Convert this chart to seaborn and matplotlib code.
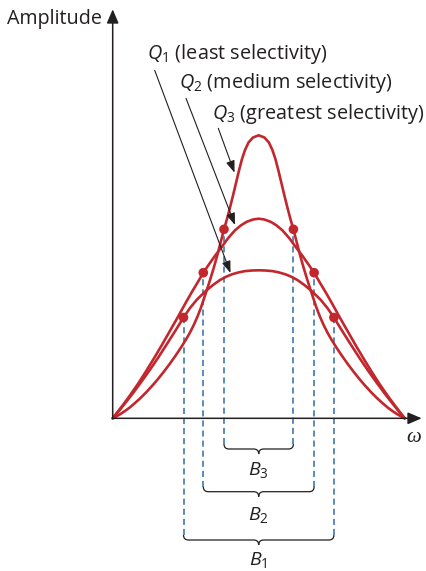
import numpy as np
import pandas as pd
import matplotlib.pyplot as plt
from matplotlib.path import Path
from matplotlib.patches import PathPatch
import seaborn as sns

# resonance curves (arbitrary units)
q3_omega = [0, 3.3, 7.3, 12.3, 17.3, 22.3, 27.3, 33.3, 39.3, 45.3, 51.3, 57.3, 63.3, 68.3,
            73.3, 77.3, 81.3, 84.8, 88.3, 91.3, 94.3, 97.8, 101.3, 104.8, 108.3, 111.3, 114.3,
            117.3, 120.3, 123.3, 126.3, 129.3, 132.3, 135.8, 140.3, 146,
            151.7, 156.2, 159.7, 162.7, 165.7, 168.7, 171.7, 174.7, 177.7, 180.7, 183.7, 187.2,
            190.7, 194.2, 197.7, 200.7, 203.7, 207.2, 210.7, 214.7, 218.7, 223.7, 228.7, 234.7,
            240.7, 246.7, 252.7, 258.7, 264.7, 269.7, 274.7, 279.7, 284.7, 288.7, 292]
q3_amp = [0, 1.7, 4, 7.3, 11, 15.3, 19.8, 25.8, 32.3, 39.3, 46.8, 54.8, 63.3, 70.8,
          78.8, 85.8, 93.8, 101.8, 110.8, 119.8, 128.8, 139.8, 151.3, 163.8, 177.3, 189, 199.3,
          210.8, 222.8, 235.3, 247.8, 259.3, 268.3, 275.8, 280.8, 283,
          280.8, 275.8, 268.3, 259.3, 247.8, 235.3, 222.8, 210.8, 199.3, 189, 177.3, 163.8,
          151.3, 139.8, 128.8, 119.8, 110.8, 101.8, 93.8, 85.8, 78.8, 70.8, 63.3, 54.8,
          46.8, 39.3, 32.3, 25.8, 19.8, 15.3, 11, 7.3, 4, 1.7, 0]

q2_omega = [0, 5, 10, 17, 25, 33, 41, 49, 57, 65, 73, 79, 85, 90.6, 96.3, 102.3, 108,
            115.3, 122.3, 128.3, 134, 140.3, 146,
            151.7, 158, 163.7, 169.7, 176.7, 184, 189.7, 195.7, 201.4, 207, 213, 219, 227,
            235, 243, 251, 259, 267, 275, 282, 287, 292]
q2_amp = [0, 6.5, 13, 22.5, 34, 46.5, 59.5, 73, 87, 101, 115.5, 126, 136, 145.6, 154, 162.5, 170,
          180, 188, 193, 196.5, 198.8, 199.6,
          198.8, 196.5, 193, 188, 180, 170, 162.5, 154, 145.6, 136, 126, 115.5, 101,
          87, 73, 59.5, 46.5, 34, 22.5, 13, 6.5, 0]

q1_omega = [0, 3.3, 6.7, 13.3, 20, 28.3, 36.7, 45, 53.4, 62.3, 70.8, 77.3, 84.3, 93.3, 100.3,
            107.3, 113.3, 119.3, 126.3, 132.3, 139.3, 146,
            152.7, 159.7, 165.7, 172.7, 178.7, 184.7, 191.7, 198.7, 207.7, 214.7, 221.2, 229.7,
            238.6, 247, 255.3, 263.7, 272, 278.7, 285.3, 288.7, 292]
q1_amp = [0, 3.8, 7.9, 16.2, 24.8, 36, 47.8, 60, 73, 87, 100.8, 110.3, 118.8, 127.5, 133.3,
          138.3, 141.5, 144, 146, 147.2, 147.8, 148,
          147.8, 147.2, 146, 144, 141.5, 138.3, 133.3, 127.5, 118.8, 110.3, 100.8, 87,
          73, 60, 47.8, 36, 24.8, 16.2, 7.9, 3.8, 0]

# half-power points (lower, upper) and their amplitude: Q1, Q2, Q3
half_lo = [70.8, 90.6, 111.3]
half_hi = [221.2, 201.4, 180.7]
half_amp = [100.8, 145.6, 189]

curve_names = ["Q1", "Q2", "Q3"]
curve_labels = ["least selectivity", "medium selectivity", "greatest selectivity"]

red = "#c1272d"
blue = "#2f6ca6"
ink = "#231f20"

sns.set_style("white")
plt.rcParams["font.family"] = ["Open Sans", "DejaVu Sans"]
plt.rcParams["mathtext.fontset"] = "custom"
plt.rcParams["mathtext.it"] = "Open Sans:italic"
plt.rcParams["mathtext.rm"] = "Open Sans"

df = pd.concat([
    pd.DataFrame({"omega": q1_omega, "amp": q1_amp, "curve": "Q1"}),
    pd.DataFrame({"omega": q2_omega, "amp": q2_amp, "curve": "Q2"}),
    pd.DataFrame({"omega": q3_omega, "amp": q3_amp, "curve": "Q3"}),
])
pts = pd.DataFrame({"omega": half_lo + half_hi, "amp": half_amp + half_amp})

fig = plt.figure(figsize=(4.26, 5.71), dpi=100)
ax = fig.add_axes([0, 0, 1, 1])
ax.set_xlim(-112.7, 313.3)
ax.set_ylim(-152.7, 418.3)
ax.axis("off")

# dashed bandwidth guides
brace_top = [-116.7, -68.4, -25.7]
for x0, x1, a, yb in zip(half_lo, half_hi, half_amp, brace_top):
    ax.vlines([x0, x1], yb, a, colors=blue, linewidth=1.1, linestyles=(0, (4, 2.6)), zorder=1)

sns.lineplot(data=df, x="omega", y="amp", units="curve", estimator=None, sort=False,
             color=red, linewidth=1.9, ax=ax, zorder=3)
sns.scatterplot(data=pts, x="omega", y="amp", color=red, s=48, edgecolor="none", ax=ax, zorder=4)

# axes with arrow heads
arrow = dict(arrowstyle="-|>,head_length=0.7,head_width=0.3", color=ink, lw=1.1,
             shrinkA=0, shrinkB=0, mutation_scale=12)
ax.annotate("", xy=(0, 409), xytext=(0, 0), arrowprops=arrow)
ax.annotate("", xy=(309, 0), xytext=(0, 0), arrowprops=arrow)
ax.text(-106, 394, "Amplitude", fontsize=14.2, color=ink, va="baseline", ha="left")
ax.text(301, -19, "ω", fontsize=15, color=ink, family="Liberation Serif", style="italic",
        ha="center", va="center")

# curve labels with leaders
label_pos = [(34, 359), (66.6, 330), (99, 299)]
leader_from = [(42, 348), (73.3, 320), (105.6, 290)]
leader_to = [(117.8, 145.3), (122.3, 193.3), (121.8, 245.6)]
lead = dict(arrowstyle="-|>,head_length=0.6,head_width=0.22", color=ink, lw=0.8,
            shrinkA=0, shrinkB=0, mutation_scale=12)
for i, name in enumerate(curve_names):
    ax.text(*label_pos[i], f"$Q_{name[1]}$ ({curve_labels[i]})", fontsize=14.3, color=ink,
            ha="left", va="baseline")
    ax.annotate("", xy=leader_to[i], xytext=leader_from[i], arrowprops=lead, zorder=5)


def brace(x0, x1, y, h, d, r=5):
    xm = (x0 + x1) / 2
    verts = [(x0, y), (x0, y - h), (x0 + r, y - h),
             (xm - r, y - h), (xm, y - h), (xm, y - h - d),
             (xm, y - h), (xm + r, y - h),
             (x1 - r, y - h), (x1, y - h), (x1, y)]
    codes = [Path.MOVETO, Path.CURVE3, Path.CURVE3, Path.LINETO, Path.CURVE3, Path.CURVE3,
             Path.CURVE3, Path.CURVE3, Path.LINETO, Path.CURVE3, Path.CURVE3]
    ax.add_patch(PathPatch(Path(verts, codes), fill=False, edgecolor=ink, lw=0.9))


band_names = ["B_1", "B_2", "B_3"]
band_label_y = [-142, -97, -52]
for x0, x1, yb, nm, ly in zip(half_lo, half_hi, brace_top, band_names, band_label_y):
    brace(x0, x1, yb, 5, 5)
    ax.text((x0 + x1) / 2, ly, f"${nm}$", fontsize=14, color=ink, ha="center", va="center")

fig.savefig("out.png", dpi=100)
